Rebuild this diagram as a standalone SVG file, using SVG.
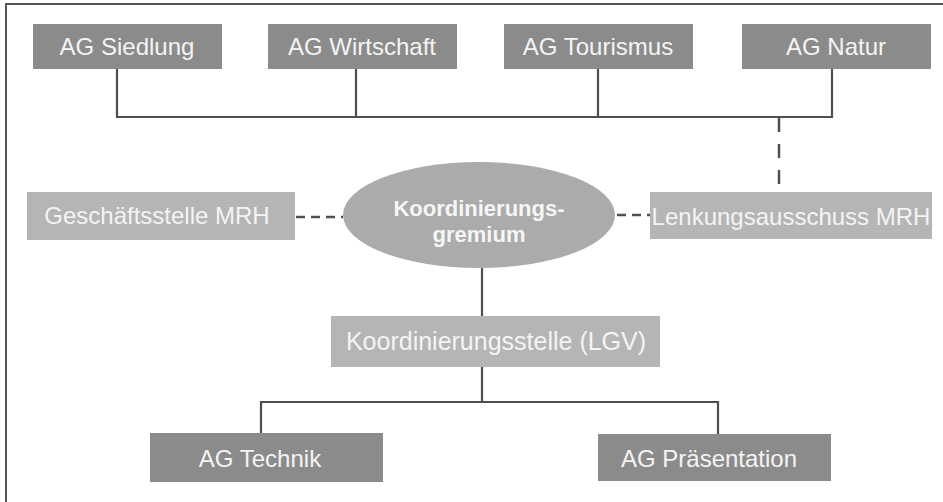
<svg xmlns="http://www.w3.org/2000/svg" width="943" height="502" viewBox="0 0 943 502">
<style>
.dark{fill:#8b8b8b}
.light{fill:#b5b5b5}
.t{font-family:"Liberation Sans",Arial,sans-serif;font-size:24px;fill:#f4f4f4;text-anchor:middle}
.b{font-family:"Liberation Sans",Arial,sans-serif;font-size:22px;font-weight:bold;fill:#f6f6f6;text-anchor:middle}
.ln{fill:none;stroke:#4f4f4f;stroke-width:2.2}
.dv{fill:none;stroke:#4f4f4f;stroke-width:2.5;stroke-dasharray:14 12}
.dh{fill:none;stroke:#4f4f4f;stroke-width:2.5;stroke-dasharray:9 6}
</style>
<rect width="943" height="502" fill="#ffffff"/>
<path d="M6 502 V4 H943" fill="none" stroke="#555" stroke-width="2"/>
<g id="connectors">
<path class="ln" d="M117 69 V117 H832 V69 M356 69 V117 M598 69 V117"/>
<path class="dv" d="M779 118 V192"/>
<path class="dh" d="M296 217 H343"/>
<path class="dh" d="M617 215 H650"/>
<path class="ln" d="M482 268 V316 M482 367 V402 M261 433 V402 H718 V434"/>
</g>
<g id="ag-siedlung"><rect class="dark" x="33" y="24" width="189" height="45"/><text class="t" x="127" y="55">AG Siedlung</text></g>
<g id="ag-wirtschaft"><rect class="dark" x="268" y="24" width="189" height="45"/><text class="t" x="362" y="55">AG Wirtschaft</text></g>
<g id="ag-tourismus"><rect class="dark" x="504" y="24" width="189" height="45"/><text class="t" x="598" y="55">AG Tourismus</text></g>
<g id="ag-natur"><rect class="dark" x="742" y="24" width="189" height="45"/><text class="t" x="836" y="55">AG Natur</text></g>
<g id="geschaeftsstelle"><rect class="light" x="27" y="192" width="268" height="48"/><text class="t" x="157" y="224">Geschäftsstelle MRH</text></g>
<g id="koordinierungsgremium"><ellipse cx="479" cy="215" rx="136" ry="53" fill="#ababab"/><text class="b" x="479" y="216">Koordinierungs-</text><text class="b" x="479" y="242">gremium</text></g>
<g id="lenkungsausschuss"><rect class="light" x="650" y="192" width="282" height="47"/><text class="t" x="791" y="225">Lenkungsausschuss MRH</text></g>
<g id="koordinierungsstelle"><rect class="light" x="331" y="316" width="329" height="51"/><text class="t" x="496" y="350" style="font-size:25px">Koordinierungsstelle (LGV)</text></g>
<g id="ag-technik"><rect class="dark" x="150" y="433" width="233" height="49"/><text class="t" x="260" y="467">AG Technik</text></g>
<g id="ag-praesentation"><rect class="dark" x="598" y="434" width="233" height="47"/><text class="t" x="709" y="467">AG Präsentation</text></g>
</svg>
